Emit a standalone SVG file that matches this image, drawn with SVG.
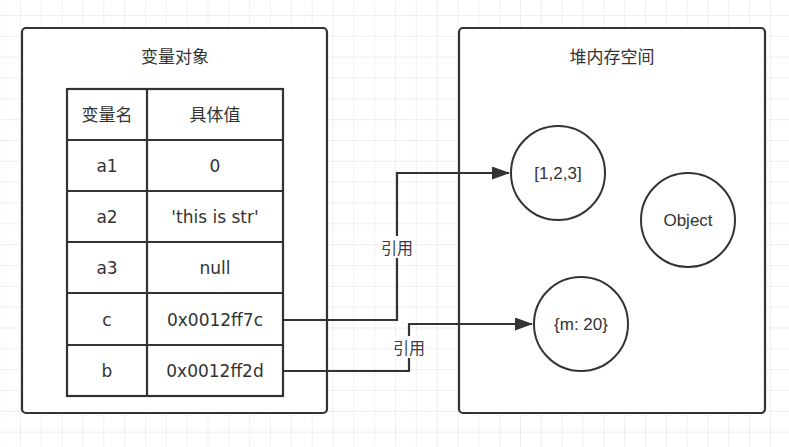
<svg xmlns="http://www.w3.org/2000/svg" width="789" height="447" viewBox="0 0 789 447">
  <style>
    .box { fill: #ffffff; stroke: #333333; stroke-width: 2.2; }
    .cell { fill: none; stroke: #333333; stroke-width: 2.2; }
    .circ { fill: #ffffff; stroke: #333333; stroke-width: 2; }
    .title { font-family: "DejaVu Sans", "Noto Sans CJK SC", sans-serif; font-size: 17px; fill: #333333; text-anchor: middle; dominant-baseline: central; }
    .tcell { font-family: "DejaVu Sans", "Noto Sans CJK SC", sans-serif; font-size: 17px; fill: #333333; text-anchor: middle; dominant-baseline: central; }
    .ctext { font-family: "Liberation Sans", Arial, sans-serif; font-size: 17px; fill: #333333; text-anchor: middle; dominant-baseline: central; }
    .edge { fill: none; stroke: #333333; stroke-width: 2.2; }
    .elabel { font-family: "Noto Sans CJK SC", sans-serif; font-size: 16px; fill: #3a3a4a; text-anchor: middle; dominant-baseline: central; }
  </style>
  <defs>
    <pattern id="grid" patternUnits="userSpaceOnUse" x="20" y="15" width="20.833" height="20.833">
      <path d="M0,0 H20.833 M0,0 V20.833" fill="none" stroke="#e9e9e9" stroke-width="1.4"/>
    </pattern>
    <marker id="arrow" viewBox="0 0 18 13" refX="17" refY="6.5" markerWidth="18" markerHeight="13" markerUnits="userSpaceOnUse" orient="auto">
      <path d="M0,0 L18,6.5 L0,13 Z" fill="#333333"/>
    </marker>
  </defs>
  <rect x="0" y="0" width="789" height="447" fill="#ffffff"/>
  <rect x="0" y="0" width="789" height="447" fill="url(#grid)"/>

  <g id="var-object">
    <rect class="box" x="22" y="28" width="305" height="385" rx="4"/>
    <text class="title" x="175" y="57">变量对象</text>
  </g>

  <g id="var-table">
    <rect class="cell" x="67" y="89" width="216" height="307"/>
    <line class="cell" x1="147" y1="89" x2="147" y2="396"/>
    <line class="cell" x1="67" y1="140" x2="283" y2="140"/>
    <line class="cell" x1="67" y1="191" x2="283" y2="191"/>
    <line class="cell" x1="67" y1="242" x2="283" y2="242"/>
    <line class="cell" x1="67" y1="293" x2="283" y2="293"/>
    <line class="cell" x1="67" y1="345" x2="283" y2="345"/>
    <text class="tcell" x="107" y="115">变量名</text>
    <text class="tcell" x="215" y="115">具体值</text>
    <text class="tcell" x="107" y="166">a1</text>
    <text class="tcell" x="215" y="166">0</text>
    <text class="tcell" x="107" y="217">a2</text>
    <text class="tcell" x="215" y="217">'this is str'</text>
    <text class="tcell" x="107" y="268">a3</text>
    <text class="tcell" x="215" y="268">null</text>
    <text class="tcell" x="107" y="320">c</text>
    <text class="tcell" x="215" y="320">0x0012ff7c</text>
    <text class="tcell" x="107" y="371">b</text>
    <text class="tcell" x="215" y="371">0x0012ff2d</text>
  </g>

  <g id="heap">
    <rect class="box" x="459" y="28" width="306" height="385" rx="4"/>
    <text class="title" x="612" y="57">堆内存空间</text>
  </g>

  <g id="arr">
    <circle class="circ" cx="558" cy="173" r="47"/>
    <text class="ctext" x="558" y="173">[1,2,3]</text>
  </g>
  <g id="obj">
    <circle class="circ" cx="688" cy="220" r="47"/>
    <text class="ctext" x="688" y="220">Object</text>
  </g>
  <g id="m20">
    <circle class="circ" cx="581" cy="324" r="47"/>
    <text class="ctext" x="581" y="324">{m: 20}</text>
  </g>

  <g id="connectors">
    <path class="edge" d="M283,320 H397 V173 H509" marker-end="url(#arrow)"/>
    <rect x="380" y="236" width="34" height="22" fill="#ffffff"/>
    <text class="elabel" x="397" y="247">引用</text>
    <path class="edge" d="M283,371 H409 V324 H532" marker-end="url(#arrow)"/>
    <rect x="392" y="336" width="34" height="22" fill="#ffffff"/>
    <text class="elabel" x="409" y="347">引用</text>
  </g>
</svg>
